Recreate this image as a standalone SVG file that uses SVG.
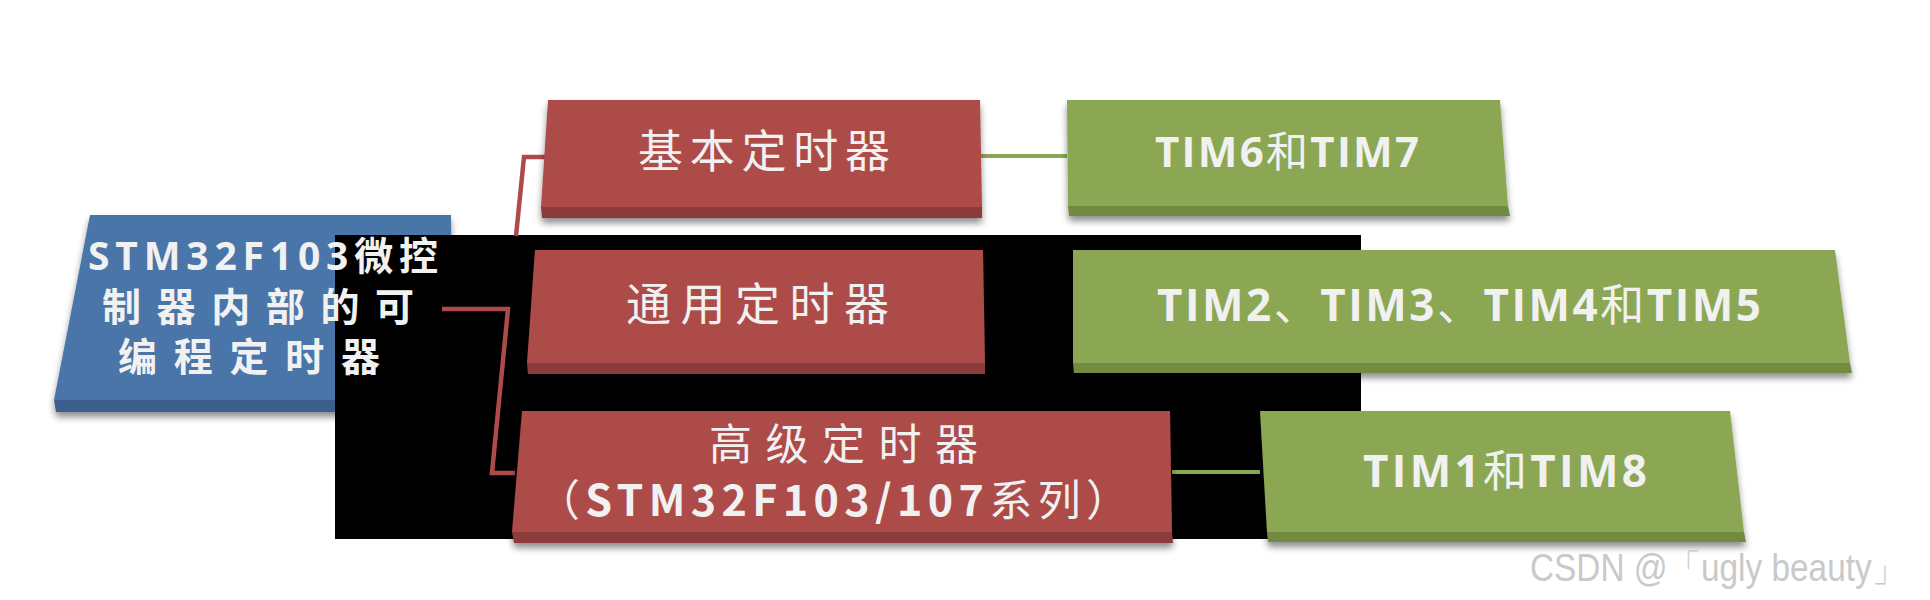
<svg xmlns="http://www.w3.org/2000/svg" width="1930" height="600" viewBox="0 0 1930 600">
<style>
.blue{fill:#4a75a8}.blueS{fill:#3b5f8c}
.red{fill:#ad4b4a}.redS{fill:#8b3b3a}
.green{fill:#8ba753}.greenS{fill:#718b41}
.t{fill:#f1f1f1}
.tb{font-family:"Open Sans","Noto Sans CJK SC",sans-serif;font-weight:bold}
.tc{font-family:"Noto Sans CJK SC",sans-serif}
.conR{fill:none;stroke:#ad4b4a;stroke-width:4.5;stroke-linejoin:miter}
.conG{fill:none;stroke:#8ba753;stroke-width:4}
.wm{font-family:"Liberation Sans",sans-serif;fill:#c9c9c9}
</style>
<defs>
<filter id="sh" x="-5%" y="-10%" width="110%" height="130%">
<feGaussianBlur in="SourceAlpha" stdDeviation="3.5"/>
<feOffset dx="0" dy="5"/>
<feComponentTransfer><feFuncA type="linear" slope="0.45"/></feComponentTransfer>
<feMerge><feMergeNode/><feMergeNode in="SourceGraphic"/></feMerge>
</filter>
<clipPath id="outBlack"><path clip-rule="evenodd" d="M0,0H1930V600H0Z M335,235V539H1361V235Z"/></clipPath>
</defs>
<rect width="1930" height="600" fill="#ffffff"/>

<rect id="black-patch" x="335" y="235" width="1026" height="304" fill="#000000"/>

<g id="node-root">
<g clip-path="url(#outBlack)">
<g filter="url(#sh)">
<polygon class="blue" points="90,215 451,215 453,400 54,400"/>
<polygon class="blueS" points="54,400 453,400 453,412 56,412"/>
</g>
</g>
<text class="t tb" font-size="39" x="88" y="270" textLength="350" lengthAdjust="spacing">STM32F103微控</text>
<text class="t tb" font-size="39" x="102" y="321" textLength="312" lengthAdjust="spacing">制器内部的可</text>
<text class="t tb" font-size="39" x="118" y="371" textLength="262" lengthAdjust="spacing">编程定时器</text>
</g>

<g id="connectors">
<path class="conR" d="M548,157 H524 L516,236"/>
<path class="conR" d="M442,309 H508 L492,473 H515"/>
<path class="conG" d="M981,156 H1067"/>
<path class="conG" d="M1172,472 H1260"/>
</g>

<g id="node-basic">
<g filter="url(#sh)">
<polygon class="red" points="548,100 980,100 982,207 541,207"/>
<polygon class="redS" points="541,207 982,207 982,218 542,218"/>
</g>
<text class="t tc" font-size="45" x="638" y="168" textLength="252" lengthAdjust="spacing">基本定时器</text>
</g>

<g id="node-general">
<g filter="url(#sh)">
<polygon class="red" points="535,250 983,250 985,363 527,363"/>
<polygon class="redS" points="527,363 985,363 985,374 528,374"/>
</g>
<text class="t tc" font-size="45" x="626" y="321" textLength="263" lengthAdjust="spacing">通用定时器</text>
</g>

<g id="node-advanced">
<g filter="url(#sh)">
<polygon class="red" points="522,411 1170,411 1172,532 512,532"/>
<polygon class="redS" points="512,532 1172,532 1173,543 514,543"/>
</g>
<text class="t tc" font-size="43" x="709" y="460" textLength="269" lengthAdjust="spacing">高级定时器</text>
<text class="t tc" font-size="43" x="537" y="516" textLength="592" lengthAdjust="spacing">（<tspan font-weight="bold">STM32F103/107</tspan>系列）</text>
</g>

<g id="node-tim67">
<g filter="url(#sh)">
<polygon class="green" points="1067,100 1500,100 1508,206 1068,206"/>
<polygon class="greenS" points="1068,206 1508,206 1510,216 1069,216"/>
</g>
<text class="t tb" font-size="42" x="1155" y="167" textLength="264" lengthAdjust="spacing">TIM6<tspan class="tc" font-weight="normal">和</tspan>TIM7</text>
</g>

<g id="node-tim2345">
<g filter="url(#sh)">
<polygon class="green" points="1073,250 1835,250 1850,363 1073,363"/>
<polygon class="greenS" points="1073,363 1850,363 1852,373 1074,373"/>
</g>
<text class="t tb" font-size="44" x="1157" y="321" textLength="604" lengthAdjust="spacing">TIM2<tspan class="tc" font-weight="normal">、</tspan>TIM3<tspan class="tc" font-weight="normal">、</tspan>TIM4<tspan class="tc" font-weight="normal">和</tspan>TIM5</text>
</g>

<g id="node-tim18">
<g filter="url(#sh)">
<polygon class="green" points="1260,411 1730,411 1744,532 1267,532"/>
<polygon class="greenS" points="1267,532 1744,532 1746,542 1268,542"/>
</g>
<text class="t tb" font-size="44" x="1363" y="487" textLength="284" lengthAdjust="spacing">TIM1<tspan class="tc" font-weight="normal">和</tspan>TIM8</text>
</g>

<text class="wm" font-size="38" x="1530" y="581" textLength="375" lengthAdjust="spacingAndGlyphs">CSDN @「ugly beauty」</text>
</svg>
